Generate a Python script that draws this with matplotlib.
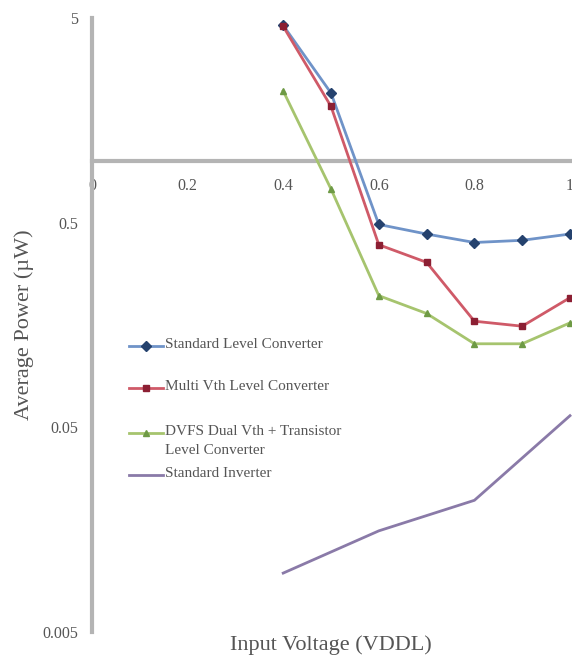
import matplotlib.pyplot as plt
from matplotlib.lines import Line2D

plt.rcParams['font.family'] = ['Liberation Serif', 'DejaVu Serif']

vdd = [0.4, 0.5, 0.6, 0.7, 0.8, 0.9, 1.0]
std_conv = [4.6, 2.15, 0.49, 0.44, 0.40, 0.41, 0.44]
multi_vth = [4.55, 1.85, 0.39, 0.32, 0.165, 0.156, 0.215]
dvfs = [2.2, 0.73, 0.22, 0.18, 0.128, 0.128, 0.162]
inv_x = [0.4, 0.6, 0.8, 1.0]
inverter = [0.0097, 0.0156, 0.022, 0.057]

labels = ["Standard Level Converter", "Multi Vth Level Converter",
          "DVFS Dual Vth + Transistor\nLevel Converter", "Standard Inverter"]
line_cols = ['#6f93c8', '#cf5a68', '#a6c46e', '#8a7aa8']
mark_cols = ['#25426e', '#8c1f33', '#6e9a45', '#8a7aa8']
markers = ['D', 's', '^', None]

fig = plt.figure(figsize=(5.72, 6.59), dpi=100)
ax = fig.add_axes([92/572, 1 - 632/659, (570 - 92)/572, (632 - 18)/659])

series = [(vdd, std_conv), (vdd, multi_vth), (vdd, dvfs), (inv_x, inverter)]
for (xs, ys), lc, mc, mk in zip(series, line_cols, mark_cols, markers):
    ax.plot(xs, ys, color=lc, lw=2, marker=mk, ms=5, mfc=mc, mec=mc,
            clip_on=False, zorder=3)

ax.set_yscale('log')
ax.set_ylim(0.005, 5)
ax.set_xlim(0, 1)
ax.set_yticks([0.005, 0.05, 0.5, 5])
ax.set_yticklabels(['0.005', '0.05', '0.5', '5'])
ax.yaxis.set_minor_locator(plt.NullLocator())
ax.set_xticks([0, 0.2, 0.4, 0.6, 0.8, 1])
ax.set_xticklabels(['0', '0.2', '0.4', '0.6', '0.8', '1'])

axis_col = '#b4b4b4'
for s in ['top', 'right']:
    ax.spines[s].set_visible(False)
ax.spines['bottom'].set_position(('data', 1))
ax.spines['left'].set_color(axis_col)
ax.spines['bottom'].set_color(axis_col)
ax.spines['left'].set_linewidth(3)
ax.spines['bottom'].set_linewidth(3)
ax.tick_params(length=0, labelsize=11.5, labelcolor='#555555')
ax.tick_params(axis='x', pad=12)
ax.tick_params(axis='y', pad=10)

ax.set_ylabel('Average Power (µW)', fontsize=16, color='#555555', labelpad=6)
fig.text(0.578, 1 - 645/659, 'Input Voltage (VDDL)', fontsize=16, color='#555555',
         ha='center', va='center')

# legend drawn by hand to match the uneven spacing
leg_y = [346, 388, 433, 475]
for lab, lc, mc, mk, yy in zip(labels, line_cols, mark_cols, markers, leg_y):
    yf = 1 - yy/659
    fig.add_artist(Line2D([129/572, 163/572], [yf, yf], color=lc, lw=2,
                          transform=fig.transFigure))
    if mk:
        fig.add_artist(Line2D([146/572], [yf], marker=mk, ms=5, mfc=mc, mec=mc,
                              transform=fig.transFigure))
    fig.text(165/572, yf + 8/659, lab, fontsize=11, color='#555555',
             ha='left', va='top', linespacing=1.55)

fig.savefig('out.png', dpi=100)
